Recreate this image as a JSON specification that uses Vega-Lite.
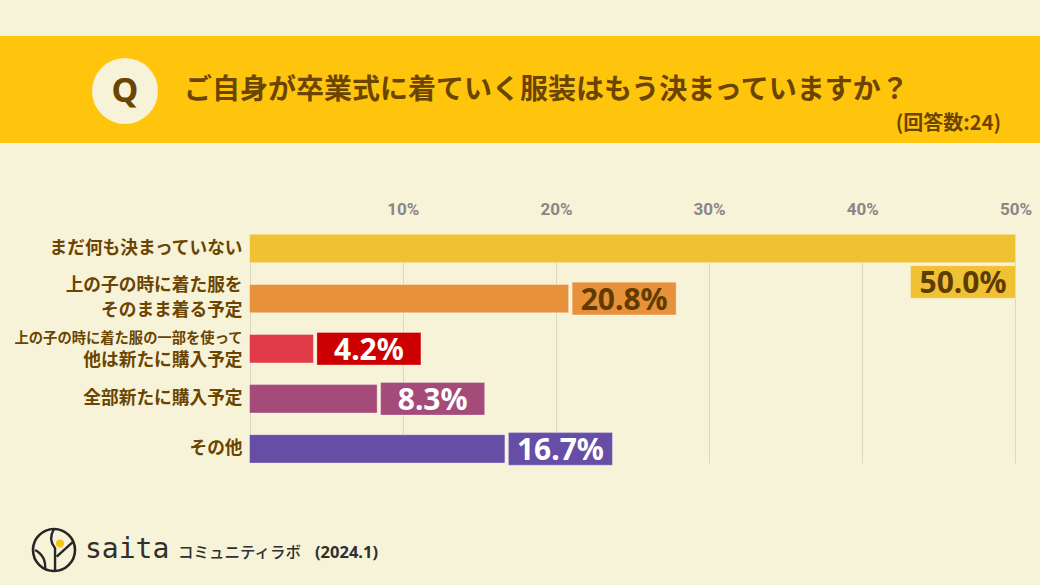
{
  "$schema": "https://vega.github.io/schema/vega-lite/v6.json",
  "background": "#F7F3D9",
  "padding": {"top": 36, "left": 0, "right": 0, "bottom": 0},
  "autosize": {"type": "pad"},
  "spacing": 0,
  "bounds": "flush",
  "config": {"view": {"stroke": null}, "font": "Noto Sans CJK JP"},
  "datasets": {
    "answers": [
      {"category": "まだ何も決まっていない", "value": 0.5},
      {"category": "上の子の時に着た服をそのまま着る予定", "value": 0.2083},
      {"category": "上の子の時に着た服の一部を使って他は新たに購入予定", "value": 0.0417},
      {"category": "全部新たに購入予定", "value": 0.0833},
      {"category": "その他", "value": 0.1667}
    ],
    "labels": [
      {"category": "まだ何も決まっていない", "text": "まだ何も決まっていない", "line": 0},
      {"category": "上の子の時に着た服をそのまま着る予定", "text": "上の子の時に着た服を", "line": 1},
      {"category": "上の子の時に着た服をそのまま着る予定", "text": "そのまま着る予定", "line": 2},
      {"category": "上の子の時に着た服の一部を使って他は新たに購入予定", "text": "上の子の時に着た服の一部を使って", "line": 1},
      {"category": "上の子の時に着た服の一部を使って他は新たに購入予定", "text": "他は新たに購入予定", "line": 2},
      {"category": "全部新たに購入予定", "text": "全部新たに購入予定", "line": 0},
      {"category": "その他", "text": "その他", "line": 0}
    ]
  },
  "vconcat": [
    {
      "width": 1040,
      "height": 107,
      "view": {"fill": "#FFC50D", "stroke": null},
      "data": {"values": [{"q": "Q", "title": "ご自身が卒業式に着ていく服装はもう決まっていますか？", "note": "(回答数:24)"}]},
      "layer": [
        {"mark": {"type": "point", "shape": "circle", "filled": true, "size": 4356, "color": "#F7F3D9", "opacity": 1, "strokeWidth": 0},
         "encoding": {"x": {"value": 125}, "y": {"value": 55}}},
        {"mark": {"type": "text", "font": "Noto Sans", "fontWeight": "bold", "fontSize": 34, "color": "#6B4500", "align": "center", "baseline": "middle", "dy": 1},
         "encoding": {"x": {"value": 125}, "y": {"value": 55}, "text": {"field": "q"}}},
        {"mark": {"type": "text", "font": "Noto Sans CJK JP", "fontWeight": "bold", "fontSize": 28, "color": "#6B4500", "align": "left", "baseline": "middle"},
         "encoding": {"x": {"value": 184}, "y": {"value": 55}, "text": {"field": "title"}}},
        {"mark": {"type": "text", "font": "Noto Sans CJK JP", "fontWeight": "bold", "fontSize": 20, "color": "#6B4500", "align": "right", "baseline": "middle"},
         "encoding": {"x": {"value": 1001}, "y": {"value": 88}, "text": {"field": "note"}}}
      ]
    },
    {
      "width": 1040,
      "height": 81,
      "data": {"values": [{}]},
      "mark": {"type": "text"},
      "encoding": {"text": {"value": ""}}
    },
    {
      "width": 1040,
      "height": 253,
      "encoding": {
        "y": {
          "field": "category",
          "type": "nominal",
          "sort": null,
          "axis": null,
          "scale": {
            "domain": ["まだ何も決まっていない", "上の子の時に着た服をそのまま着る予定", "上の子の時に着た服の一部を使って他は新たに購入予定", "全部新たに購入予定", "その他"],
            "range": [10.3, 239.1],
            "paddingInner": 0.433,
            "paddingOuter": 0
          }
        }
      },
      "layer": [
        {
          "data": {"name": "answers"},
          "mark": {"type": "bar", "stroke": "#FFFFFF", "strokeOpacity": 0.35, "strokeWidth": 1},
          "encoding": {
            "x": {
              "field": "value",
              "type": "quantitative",
              "scale": {"domain": [-0.1629, 0.516], "nice": false, "zero": false},
              "axis": {
                "orient": "top",
                "values": [0, 0.1, 0.2, 0.3, 0.4, 0.5],
                "format": ".0%",
                "labelExpr": "datum.value == 0 ? '' : datum.label",
                "grid": true,
                "gridColor": "#DAD7C4",
                "gridWidth": 1,
                "domain": false,
                "ticks": false,
                "tickSize": 0,
                "labelPadding": 6,
                "labelFont": "Roboto",
                "labelFontWeight": "bold",
                "labelFontSize": 17,
                "labelColor": "#8A8686",
                "title": null
              }
            },
            "x2": {"datum": 0},
            "color": {
              "field": "category",
              "type": "nominal",
              "legend": null,
              "scale": {
                "domain": ["まだ何も決まっていない", "上の子の時に着た服をそのまま着る予定", "上の子の時に着た服の一部を使って他は新たに購入予定", "全部新たに購入予定", "その他"],
                "range": ["#F0C233", "#E8913B", "#E13B4A", "#A54B79", "#664EA6"]
              }
            }
          }
        },
        {
          "data": {"name": "answers"},
          "transform": [{"filter": "datum.value < 0.5"}],
          "mark": {"type": "bar", "height": 32.6, "xOffset": 3.5, "x2Offset": 107.5, "stroke": "#FFFFFF", "strokeOpacity": 0.3, "strokeWidth": 1},
          "encoding": {
            "x": {"field": "value", "type": "quantitative"},
            "x2": {"field": "value"},
            "fill": {
              "field": "category",
              "type": "nominal",
              "legend": null,
              "scale": {
                "domain": ["まだ何も決まっていない", "上の子の時に着た服をそのまま着る予定", "上の子の時に着た服の一部を使って他は新たに購入予定", "全部新たに購入予定", "その他"],
                "range": ["#F0C233", "#E8913B", "#CC0000", "#A54B79", "#664EA6"]
              }
            }
          }
        },
        {
          "data": {"name": "answers"},
          "transform": [{"filter": "datum.value >= 0.5"}],
          "mark": {"type": "bar", "height": 32.6, "xOffset": -105, "x2Offset": 0, "yOffset": 33.5, "stroke": "#FFFFFF", "strokeOpacity": 0.3, "strokeWidth": 1},
          "encoding": {
            "x": {"field": "value", "type": "quantitative"},
            "x2": {"field": "value"},
            "fill": {"field": "category", "type": "nominal", "legend": null}
          }
        },
        {
          "data": {"name": "answers"},
          "transform": [{"filter": "datum.value < 0.5"}],
          "mark": {"type": "text", "font": "Noto Sans", "fontWeight": "bold", "fontSize": 30, "align": "center", "baseline": "middle", "xOffset": 55.5, "dy": 2},
          "encoding": {
            "x": {"field": "value", "type": "quantitative"},
            "text": {"field": "value", "type": "quantitative", "format": ".1%"},
            "color": {"condition": {"test": "datum.value >= 0.2", "value": "#5E3C00"}, "value": "#FFFFFF"}
          }
        },
        {
          "data": {"name": "answers"},
          "transform": [{"filter": "datum.value >= 0.5"}],
          "mark": {"type": "text", "font": "Noto Sans", "fontWeight": "bold", "fontSize": 30, "align": "center", "baseline": "middle", "xOffset": -52.5, "yOffset": 33.5, "dy": 2, "color": "#5E3C00"},
          "encoding": {
            "x": {"field": "value", "type": "quantitative"},
            "text": {"field": "value", "type": "quantitative", "format": ".1%"}
          }
        },
        {
          "data": {"name": "labels"},
          "transform": [{"filter": "datum.line == 0"}],
          "mark": {"type": "text", "font": "Noto Sans CJK JP", "fontWeight": "bold", "fontSize": 17.7, "align": "right", "baseline": "middle", "xOffset": -7, "color": "#6B4500"},
          "encoding": {"x": {"datum": 0, "type": "quantitative"}, "text": {"field": "text"}}
        },
        {
          "data": {"name": "labels"},
          "transform": [{"filter": "datum.line == 1 && length(datum.text) <= 12"}],
          "mark": {"type": "text", "font": "Noto Sans CJK JP", "fontWeight": "bold", "fontSize": 17.7, "align": "right", "baseline": "middle", "xOffset": -7, "yOffset": -13, "color": "#6B4500"},
          "encoding": {"x": {"datum": 0, "type": "quantitative"}, "text": {"field": "text"}}
        },
        {
          "data": {"name": "labels"},
          "transform": [{"filter": "datum.line == 1 && length(datum.text) > 12"}],
          "mark": {"type": "text", "font": "Noto Sans CJK JP", "fontWeight": "bold", "fontSize": 14.3, "align": "right", "baseline": "middle", "xOffset": -7, "yOffset": -9.5, "color": "#6B4500"},
          "encoding": {"x": {"datum": 0, "type": "quantitative"}, "text": {"field": "text"}}
        },
        {
          "data": {"name": "labels"},
          "transform": [{"filter": "datum.line == 2"}],
          "mark": {"type": "text", "font": "Noto Sans CJK JP", "fontWeight": "bold", "fontSize": 17.7, "align": "right", "baseline": "middle", "xOffset": -7, "yOffset": 12.5, "color": "#6B4500"},
          "encoding": {"x": {"datum": 0, "type": "quantitative"}, "text": {"field": "text"}}
        }
      ],
      "resolve": {"scale": {"color": "independent"}}
    },
    {
      "width": 1040,
      "height": 108,
      "data": {"values": [{"brand": "saita", "lab": "コミュニティラボ", "date": "(2024.1)"}]},
      "layer": [
        {"mark": {"type": "point", "shape": "circle", "filled": false, "size": 1764, "color": "#262626", "opacity": 1, "strokeWidth": 2.6},
         "encoding": {"x": {"value": 54}, "y": {"value": 73}}},
        {"mark": {"type": "point", "shape": "M0,-1 Q-0.3,-0.5 0.05,-0.08 L0.05,1 M0.89,-0.37 L0.13,0.32 M-0.9,0 Q-0.35,0.3 -0.43,0.95", "filled": false, "size": 1764, "color": "#262626", "opacity": 1, "strokeWidth": 2.4},
         "encoding": {"x": {"value": 54}, "y": {"value": 73}}},
        {"mark": {"type": "point", "shape": "circle", "filled": true, "size": 64, "color": "#F5C518", "opacity": 1, "strokeWidth": 0},
         "encoding": {"x": {"value": 60}, "y": {"value": 66.5}}},
        {"mark": {"type": "text", "font": "DejaVu Sans Mono", "fontSize": 28, "color": "#2F2F2F", "align": "left", "baseline": "middle"},
         "encoding": {"x": {"value": 85}, "y": {"value": 73}, "text": {"field": "brand"}}},
        {"mark": {"type": "text", "font": "Noto Sans CJK JP", "fontWeight": 500, "fontSize": 15.5, "color": "#2F2F2F", "align": "left", "baseline": "middle"},
         "encoding": {"x": {"value": 178}, "y": {"value": 75.5}, "text": {"field": "lab"}}},
        {"mark": {"type": "text", "font": "Noto Sans", "fontWeight": "bold", "fontSize": 16.5, "color": "#2F2F2F", "align": "left", "baseline": "middle"},
         "encoding": {"x": {"value": 315}, "y": {"value": 75.5}, "text": {"field": "date"}}}
      ]
    }
  ]
}
